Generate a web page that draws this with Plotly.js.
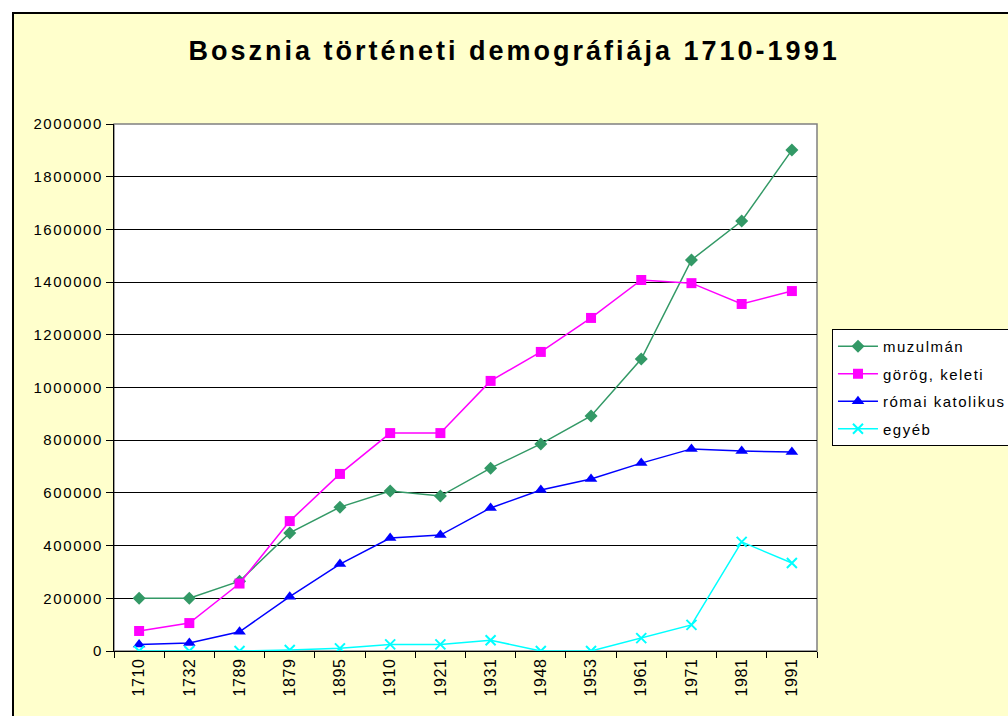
<!DOCTYPE html>
<html>
<head>
<meta charset="utf-8">
<script src="https://cdn.plot.ly/plotly-3.0.1.min.js"></script>
<style>
  html, body { margin: 0; padding: 0; width: 1008px; height: 716px; overflow: hidden; background: #ffffff; }
  #frame { position: absolute; left: 12px; top: 12px; width: 1100px; height: 800px; background: #FFFFCC; border: 2px solid #000; }
  #chart { position: absolute; left: 0; top: 0; width: 1008px; height: 716px; }
  .gtitle { letter-spacing: 3px; }
  .ytick text { letter-spacing: 1.6px; }
  .xtick text { letter-spacing: 0.6px; }
  .legendtext { letter-spacing: 1.5px; }
</style>
</head>
<body>
<div id="frame"></div>
<div id="chart"></div>
<script>
const years = ["1710","1732","1789","1879","1895","1910","1921","1931","1948","1953","1961","1971","1981","1991"];
const muzulman = [200000,200000,265000,448000,546000,607000,588000,694000,786000,892000,1108000,1484000,1632000,1901000];
const gorogKeleti = [76000,106000,256000,493000,672000,827000,827000,1025000,1135000,1264000,1408000,1396000,1317000,1366000];
const romaiKatolikus = [25000,30000,73000,206000,330000,429000,440000,543000,611000,653000,713000,767000,759000,755000];
const egyeb = [0,0,0,4000,10000,25000,25000,41000,0,0,49000,99000,414000,334000];
const seriesNames = ["muzulmán","görög, keleti","római katolikus","egyéb"];
const yTicks = [0,200000,400000,600000,800000,1000000,1200000,1400000,1600000,1800000,2000000];

const FONT = "Liberation Sans, Arial, sans-serif";

function tr(name, y, color, symbol, size, grp) {
  return {
    type: "scatter", mode: "lines+markers", x: years, y: y, name: name,
    legendgroup: grp,
    line: {color: color, width: 1.5},
    marker: {color: color, symbol: symbol, size: size, line: {color: color, width: symbol === "x-thin" ? 2 : 0}}
  };
}

const data = [
  tr(seriesNames[0], muzulman, "#339966", "diamond", 10, "a"),
  tr(seriesNames[1], gorogKeleti, "#FF00FF", "square", 10, "b"),
  tr(seriesNames[2], romaiKatolikus, "#0000FF", "triangle-up", 11, "c"),
  tr(seriesNames[3], egyeb, "#00FFFF", "x-thin", 10, "d")
];

const layout = {
  width: 1008, height: 716,
  paper_bgcolor: "rgba(0,0,0,0)",
  plot_bgcolor: "#ffffff",
  margin: {l: 114, r: 191, t: 124, b: 65, autoexpand: false},
  font: {family: FONT, color: "#000", size: 15},
  title: {
    text: "<b>Bosznia történeti demográfiája 1710-1991</b>",
    font: {family: FONT, size: 27, color: "#000"},
    x: 0.51, xanchor: "center", y: 0.93, yanchor: "middle", xref: "container", yref: "container"
  },
  showlegend: true,
  legend: {
    x: 1.0213, y: 0.611, xanchor: "left", yanchor: "top",
    bgcolor: "#ffffff", bordercolor: "#000", borderwidth: 1,
    font: {family: FONT, size: 15, color: "#000"},
    tracegroupgap: 5, itemwidth: 40
  },
  xaxis: {
    type: "category", tickangle: -90, range: [-0.5, 13.5], autorange: false,
    showline: true, linecolor: "#000", linewidth: 1,
    ticks: "outside", tickson: "boundaries", ticklen: 6, tickcolor: "#000",
    showgrid: false, zeroline: false,
    tickfont: {family: FONT, size: 16, color: "#000"}
  },
  yaxis: {
    range: [0, 2000000], autorange: false, tickvals: yTicks, tickformat: "d",
    showline: true, linecolor: "#000", linewidth: 1,
    ticks: "outside", ticklen: 7, tickcolor: "#000",
    showgrid: true, gridcolor: "#000", gridwidth: 1, zeroline: false,
    tickfont: {family: FONT, size: 15, color: "#000"}
  },
  shapes: [{
    type: "rect", xref: "paper", yref: "paper", x0: 0, x1: 1, y0: 0, y1: 1,
    line: {color: "#808080", width: 1.5}, layer: "below"
  }]
};

Plotly.newPlot("chart", data, layout, {staticPlot: true, displayModeBar: false});
</script>
</body>
</html>
